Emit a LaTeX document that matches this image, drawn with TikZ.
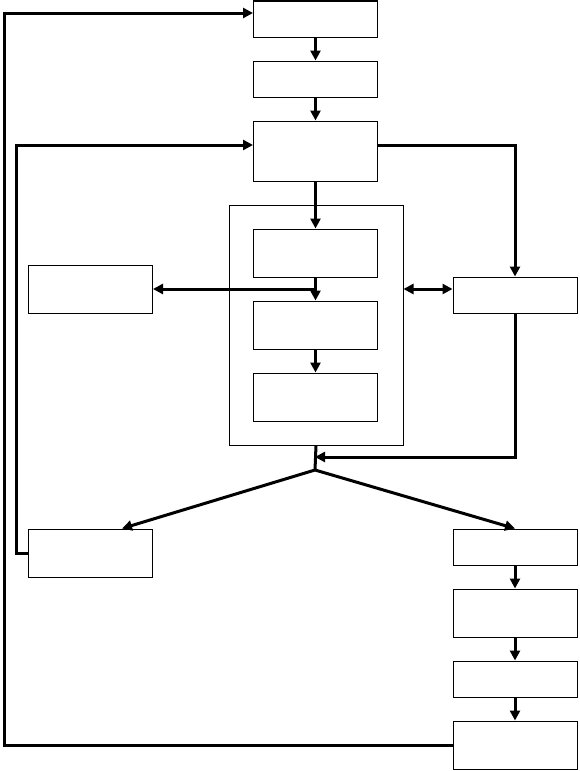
\documentclass[tikz,border=0pt]{standalone}
\usepackage{tikz}
\usetikzlibrary{arrows.meta}

\begin{document}
\begin{tikzpicture}[x=1pt,y=-1pt,>={Triangle[length=10pt,width=10pt]},
    box/.style={draw, line width=1pt, inner sep=0pt, minimum width=124pt},
    flow/.style={line width=3pt}]
  \useasboundingbox (0,0) rectangle (579,771);

  % Main column
  \node[box, minimum height=36pt] (start) at (315.5,19) {};
  \node[box, minimum height=36pt] (prep) at (315.5,79) {};
  \node[box, minimum height=60pt] (plan) at (315.5,151) {};

  % Container with the three inner steps
  \node[draw, line width=1pt, inner sep=0pt, minimum width=174pt, minimum height=240pt] (core) at (316,325) {};
  \node[box, minimum height=48pt] (stepA) at (315.5,253) {};
  \node[box, minimum height=48pt] (stepB) at (315.5,325) {};
  \node[box, minimum height=48pt] (stepC) at (315.5,397) {};

  % Side boxes
  \node[box, minimum height=48pt] (store) at (90.5,289) {};
  \node[box, minimum height=36pt] (check) at (515,295) {};

  % Lower boxes
  \node[box, minimum height=48pt] (retry) at (90.5,553) {};
  \node[box, minimum height=36pt] (outA) at (515,547) {};
  \node[box, minimum height=48pt] (outB) at (515,613) {};
  \node[box, minimum height=36pt] (outC) at (515,679) {};
  \node[box, minimum height=48pt] (outD) at (515,745) {};

  \coordinate (merge) at (315,457);
  \coordinate (fork) at (315,470);

  % Downward flow
  \draw[flow,->] (start) -- (prep);
  \draw[flow,->] (prep) -- (plan);
  \draw[flow,->] (plan) -- (stepA);
  \draw[flow,->] (stepA) -- (stepB);
  \draw[flow,->] (stepB) -- (stepC);
  \draw[flow,->] (stepA.south |- store.east) -- (store.east);
  \draw[flow,<->] (core.east |- store.east) -- (check.west |- store.east);

  % Right loop through the check box
  \draw[flow,->] ([yshift=6pt]plan.east) -| (check.north);
  \draw[flow,->] (check.south) |- (merge);
  \draw[flow] (core.south) -- (fork);

  % Branches
  \draw[flow,->] (fork) -- ([xshift=31.5pt]retry.north);
  \draw[flow,->] (fork) -- (outA.north);
  \draw[flow,->] (outA) -- (outB);
  \draw[flow,->] (outB) -- (outC);
  \draw[flow,->] (outC) -- (outD);

  % Feedback lines
  \draw[flow,->] (retry.west) -- ++(-12,0) |- ([yshift=6pt]plan.west);
  \draw[flow,->] (outD.west) -- (4,745) |- ([yshift=6pt]start.west);

\end{tikzpicture}
\end{document}
